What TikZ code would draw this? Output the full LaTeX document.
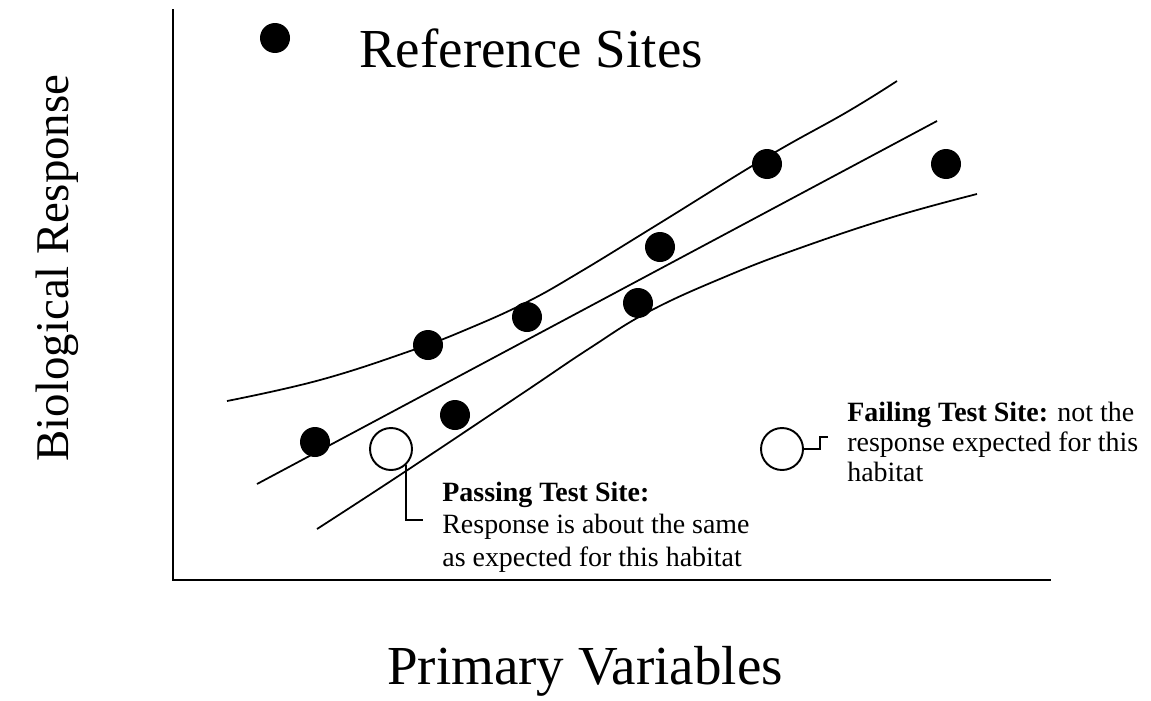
\documentclass[tikz,border=0pt]{standalone}
\usepackage{fontspec}
\setmainfont{Liberation Serif}
\usetikzlibrary{positioning, calc}
\newcommand{\bigtext}{\fontsize{31.3}{36}\selectfont}
\newcommand{\axtext}{\fontsize{26.7}{31}\selectfont}
\newcommand{\passtext}{\fontsize{15.9}{18.5}\selectfont}
\newcommand{\failtext}{\fontsize{15.9}{16.9}\selectfont}
\tikzset{
  % --- nodes ---
  refsite/.style  = {circle, fill=black, inner sep=0pt, minimum size=0.6cm},
  testsite/.style = {circle, draw=black, fill=white, line width=1.1pt,
                     inner sep=0pt, minimum size=0.84cm},
  note/.style     = {align=left, inner sep=0pt},
  % --- lines ---
  axis/.style     = {line width=1.4pt, line cap=rect},
  fitline/.style  = {line width=1.0pt},
  band/.style     = {line width=1.0pt, smooth, tension=0.7},
  leader/.style   = {line width=1.1pt},
}

\begin{document}
\begin{tikzpicture}[x=0.02cm, y=-0.02cm]
  \useasboundingbox (0,0) rectangle (1151,700);

  % ===================================================================
  %  AXES + LABELS
  % ===================================================================
  \coordinate (ytop)   at (173, 10);
  \coordinate (origin) at (173, 580);
  \coordinate (xend)   at (1050, 580);
  \draw[axis] (ytop) -- (origin) -- (xend);

  \node[anchor=base, rotate=90, font=\axtext] (ylab) at (68, 268) {Biological Response};
  \node[anchor=base, font=\bigtext] (xlab) at (585, 684) {Primary Variables};

  % --- legend ---
  \node[refsite] (key) at (275, 38) {};
  \node[anchor=base west, font=\bigtext] (keylab) at (353, 67) {Reference Sites};

  % ===================================================================
  %  REGRESSION LINE + BAND
  % ===================================================================
  \coordinate (fitlo) at (257, 484);
  \coordinate (fithi) at (937, 121);
  \draw[fitline] (fitlo) -- (fithi);

  % upper limit
  \draw[band] plot coordinates {(227,401) (320,380) (413,350) (470,328)
    (527,302) (580,272) (660,223) (767,157) (847,112) (897,81)};
  % lower limit
  \draw[band] plot coordinates {(317,529) (403,473) (520,395) (590,348)
    (650,311) (727,276) (800,248) (893,217) (977,194)};

  % ===================================================================
  %  REFERENCE SITES
  % ===================================================================
  \foreach \px/\py [count=\i] in {315/442, 428/345, 455/415, 527/317,
                                  638/303, 660/247, 767/164, 946/164}
    \node[refsite] (ref\i) at (\px, \py) {};

  % ===================================================================
  %  TEST SITES + CALLOUTS
  % ===================================================================
  \node[testsite] (pass) at (391, 449) {};
  \node[testsite] (fail) at (782, 449) {};

  % base of a multi-line note sits under its last line
  \node[note, anchor=base west, font=\passtext] (passtxt) at (442, 566)
    {\textbf{Passing Test Site:}\\Response is about the same\\as expected for this habitat};
  \node[note, anchor=base west, font=\failtext] (failtxt) at (847, 481)
    {\textbf{Failing Test Site:} not the\\response expected for this\\habitat};

  \coordinate (passtip) at (423, 520);
  \coordinate (failtip) at (828, 437);
  \draw[leader] (pass.-48) |- (passtip);
  \draw[leader] (fail.east) -- ++(16,0) |- (failtip);

\end{tikzpicture}
\end{document}
